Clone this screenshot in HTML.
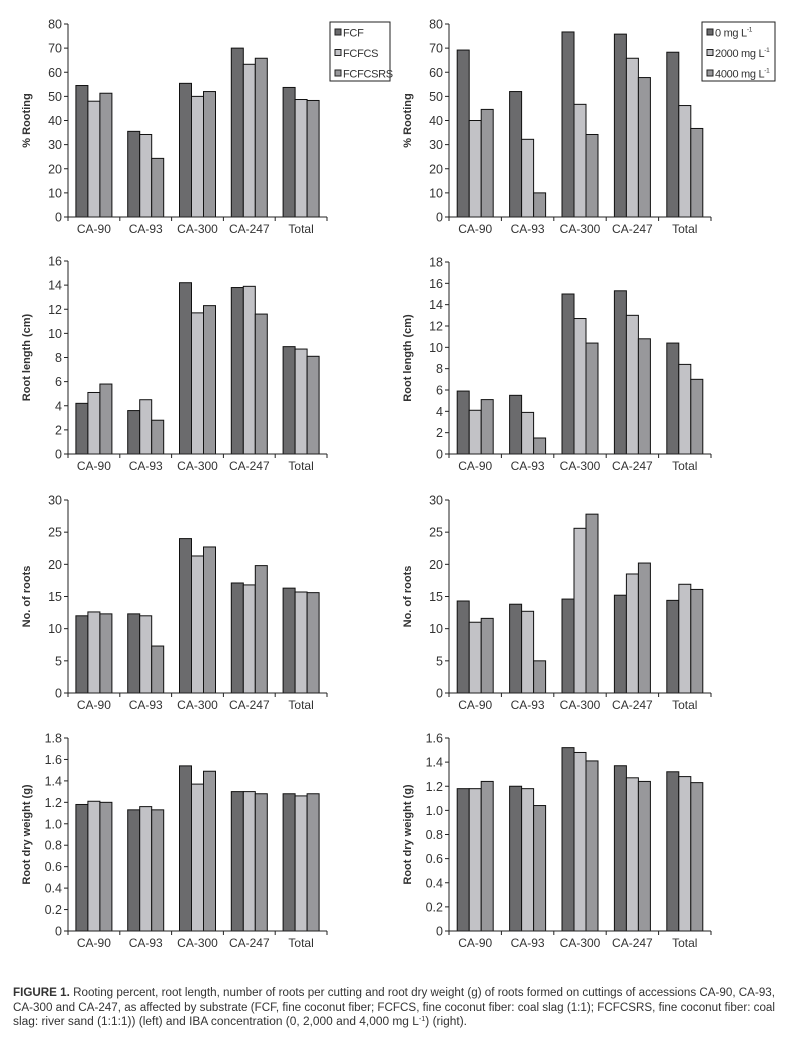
<!DOCTYPE html>
<html><head><meta charset="utf-8"><style>
html,body{margin:0;padding:0;background:#fff;}
svg{display:block;font-family:"Liberation Sans",sans-serif;}
</style></head><body>
<svg id="fig" width="793" height="1039" viewBox="0 0 793 1039" xmlns="http://www.w3.org/2000/svg">
<rect width="793" height="1039" fill="#fff"/>
<g id="charts"></g>
<text x="13" y="996" font-size="11.5" fill="#333" textLength="762" lengthAdjust="spacingAndGlyphs"><tspan font-weight="bold">FIGURE 1.</tspan> Rooting percent, root length, number of roots per cutting and root dry weight (g) of roots formed on cuttings of accessions CA-90, CA-93,</text>
<text x="13" y="1011" font-size="11.5" fill="#333" textLength="762" lengthAdjust="spacingAndGlyphs">CA-300 and CA-247, as affected by substrate (FCF, fine coconut fiber; FCFCS, fine coconut fiber: coal slag (1:1); FCFCSRS, fine coconut fiber: coal</text>
<text x="13" y="1025" font-size="11.5" fill="#333" textLength="454" lengthAdjust="spacingAndGlyphs">slag: river sand (1:1:1)) (left) and IBA concentration (0, 2,000 and 4,000 mg L<tspan font-size="7" dy="-4">-1</tspan><tspan dy="4">) (right).</tspan></text>
</svg>
<script>
const categories = ["CA-90","CA-93","CA-300","CA-247","Total"];
const substrateNames = ["FCF","FCFCS","FCFCSRS"];
const ibaNames = ["0 mg L","2000 mg L","4000 mg L"];
// rooting %
const rootingSubFCF = [54.5,35.5,55.4,70,53.7];
const rootingSubFCFCS = [48,34.2,50,63.3,48.7];
const rootingSubFCFCSRS = [51.3,24.3,52,65.8,48.3];
const rootingIba0 = [69.2,52,76.7,75.8,68.3];
const rootingIba2000 = [40,32.2,46.7,65.8,46.2];
const rootingIba4000 = [44.6,10,34.2,57.8,36.7];
// root length
const lengthSubFCF = [4.2,3.6,14.2,13.8,8.9];
const lengthSubFCFCS = [5.1,4.5,11.7,13.9,8.7];
const lengthSubFCFCSRS = [5.8,2.8,12.3,11.6,8.1];
const lengthIba0 = [5.9,5.5,15,15.3,10.4];
const lengthIba2000 = [4.1,3.9,12.7,13,8.4];
const lengthIba4000 = [5.1,1.5,10.4,10.8,7.0];
// number of roots
const numberSubFCF = [12,12.3,24,17.1,16.3];
const numberSubFCFCS = [12.6,12,21.3,16.8,15.7];
const numberSubFCFCSRS = [12.3,7.3,22.7,19.8,15.6];
const numberIba0 = [14.3,13.8,14.6,15.2,14.4];
const numberIba2000 = [11,12.7,25.6,18.5,16.9];
const numberIba4000 = [11.6,5,27.8,20.2,16.1];
// dry weight
const weightSubFCF = [1.18,1.13,1.54,1.30,1.28];
const weightSubFCFCS = [1.21,1.16,1.37,1.30,1.26];
const weightSubFCFCSRS = [1.20,1.13,1.49,1.28,1.28];
const weightIba0 = [1.18,1.20,1.52,1.37,1.32];
const weightIba2000 = [1.18,1.18,1.48,1.27,1.28];
const weightIba4000 = [1.24,1.04,1.41,1.24,1.23];
// axis tick labels
const ticksRootLeft = ["0","10","20","30","40","50","60","70","80"];
const ticksRootRight = ["0","10","20","30","40","50","60","70","80"];
const ticksLenLeft = ["0","2","4","6","8","10","12","14","16"];
const ticksLenRight = ["0","2","4","6","8","10","12","14","16","18"];
const ticksNumLeft = ["0","5","10","15","20","25","30"];
const ticksNumRight = ["0","5","10","15","20","25","30"];
const ticksWtLeft = ["0","0.2","0.4","0.6","0.8","1.0","1.2","1.4","1.6","1.8"];
const ticksWtRight = ["0","0.2","0.4","0.6","0.8","1.0","1.2","1.4","1.6"];

const NS="http://www.w3.org/2000/svg";
const fills=["#6b6b6d","#c2c2c6","#98989b"];
const root=document.getElementById('charts');
function mk(tag,attrs,parent){const e=document.createElementNS(NS,tag);for(const k in attrs)e.setAttribute(k,attrs[k]);(parent||root).appendChild(e);return e;}

function chart(name,x0,x1,yTop,yBot,ticks,series,title,legend){
  const g=mk('g',{});
  
  
  const maxV=parseFloat(ticks[ticks.length-1]);
  const y=v=>yBot-(v/maxV)*(yBot-yTop);
  const cw=(x1-x0)/categories.length;
  const bw=12;
  series.forEach((s,si)=>{
    s.forEach((v,ci)=>{
      const bx=x0+ci*cw+(cw-3*bw)/2+si*bw;
      const r=mk('rect',{x:bx,y:y(v),width:bw,height:yBot-y(v),fill:fills[si],stroke:"#111","stroke-width":1},g);
      
      
    });
  });
  const ya=mk('line',{x1:x0,y1:yTop,x2:x0,y2:yBot,stroke:"#222","stroke-width":1},g);
  
  
  const xa=mk('line',{x1:x0,y1:yBot,x2:x1,y2:yBot,stroke:"#222","stroke-width":1},g);
  
  
  ticks.forEach(t=>{
    const ty=y(parseFloat(t));
    mk('line',{x1:x0-4,y1:ty,x2:x0,y2:ty,stroke:"#222"},g);
    const tl=mk('text',{x:x0-6,y:ty+4.5,"text-anchor":"end","font-size":12.5,fill:"#333"},g);
    tl.textContent=t;
    
    
  });
  categories.forEach((c,ci)=>{
    mk('line',{x1:x0+ci*cw,y1:yBot,x2:x0+ci*cw,y2:yBot+4,stroke:"#222"},g);
    const xl=mk('text',{x:x0+ci*cw+cw/2,y:yBot+16,"text-anchor":"middle","font-size":12,fill:"#333"},g);
    xl.textContent=c;
    
    
  });
  mk('line',{x1:x1,y1:yBot,x2:x1,y2:yBot+4,stroke:"#222"},g);
  const cy=(yTop+yBot)/2;
  const tt=mk('text',{x:0,y:0,transform:`translate(${x0-38},${cy}) rotate(-90)`,"text-anchor":"middle","font-size":11,"font-weight":"bold",fill:"#333"},g);
  tt.textContent=title;
  
  
  if(legend){
    const lg=mk('g',{},g);
    
    
    mk('rect',{x:legend.x,y:22,width:legend.w,height:59,fill:"#fff",stroke:"#222"},lg);
    legend.names.forEach((n,i)=>{
      const ly=32+i*20.5;
      mk('rect',{x:legend.x+5,y:ly-3,width:6,height:6,fill:fills[i],stroke:"#222"},lg);
      const lt=mk('text',{x:legend.x+13,y:ly+4.5,"font-size":11,"letter-spacing":-0.3,fill:"#333"},lg);
      lt.textContent=n;
      if(legend.sup){const sp=mk('tspan',{"font-size":6.5,dy:-5},lt);sp.textContent="-1";}
      
      
    });
  }
}
const L0=68,L1=327,R0=449,R1=711;
chart('rooting-substrate-chart',L0,L1,24,217,ticksRootLeft,[rootingSubFCF,rootingSubFCFCS,rootingSubFCFCSRS],'% Rooting',{x:330,w:60,names:substrateNames});
chart('rooting-iba-chart',R0,R1,24,217,ticksRootRight,[rootingIba0,rootingIba2000,rootingIba4000],'% Rooting',{x:702,w:73,names:ibaNames,sup:true});
chart('length-substrate-chart',L0,L1,261,454,ticksLenLeft,[lengthSubFCF,lengthSubFCFCS,lengthSubFCFCSRS],'Root length (cm)');
chart('length-iba-chart',R0,R1,262,454,ticksLenRight,[lengthIba0,lengthIba2000,lengthIba4000],'Root length (cm)');
chart('number-substrate-chart',L0,L1,500,693,ticksNumLeft,[numberSubFCF,numberSubFCFCS,numberSubFCFCSRS],'No. of roots');
chart('number-iba-chart',R0,R1,500,693,ticksNumRight,[numberIba0,numberIba2000,numberIba4000],'No.  of roots');
chart('weight-substrate-chart',L0,L1,738,931,ticksWtLeft,[weightSubFCF,weightSubFCFCS,weightSubFCFCSRS],'Root dry weight (g)');
chart('weight-iba-chart',R0,R1,738,931,ticksWtRight,[weightIba0,weightIba2000,weightIba4000],'Root dry weight (g)');
</script>
</body></html>
